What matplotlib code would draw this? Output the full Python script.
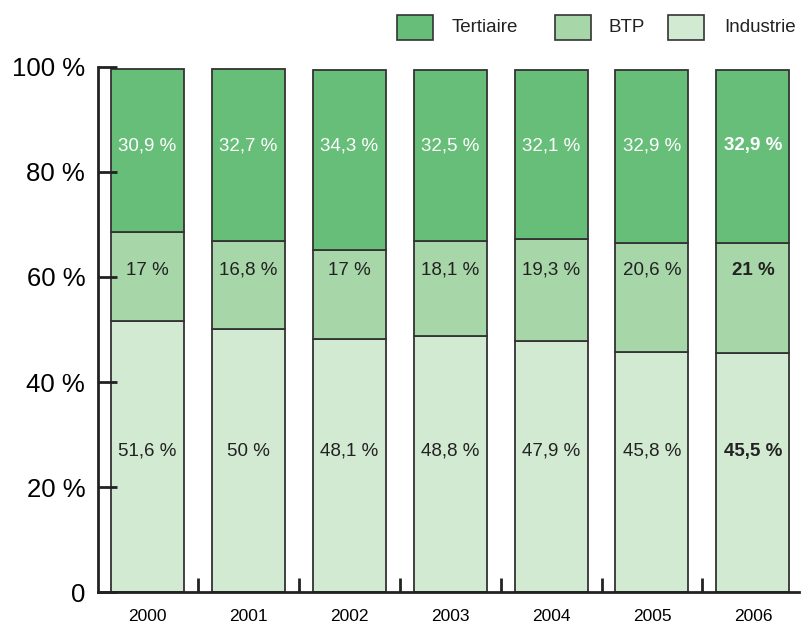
import numpy as np
import matplotlib.pyplot as plt
import matplotlib.patches as mpatches

plt.rcParams['font.family'] = ['Liberation Sans', 'DejaVu Sans']

years = ['2000', '2001', '2002', '2003', '2004', '2005', '2006']
industrie = [51.6, 50.0, 48.1, 48.8, 47.9, 45.8, 45.5]
btp = [17.0, 16.8, 17.0, 18.1, 19.3, 20.6, 21.0]
tertiaire = [30.9, 32.7, 34.3, 32.5, 32.1, 32.9, 32.9]
series_names = ['Tertiaire', 'BTP', 'Industrie']

c_ind = '#d2e9d2'
c_btp = '#a7d6a8'
c_ter = '#67be79'
edge = '#333333'

def fmt(v):
    s = ('%.1f' % v).rstrip('0').rstrip('.')
    return s.replace('.', ',') + ' %'

W, H = 801, 624
fig = plt.figure(figsize=(W / 100, H / 100), dpi=100)
ax = fig.add_axes([0.122, 0.051, 0.876, 0.842])

x = np.arange(len(years))
w = 0.723
ind = np.array(industrie)
bt = np.array(btp)
te = np.array(tertiaire)

ax.bar(x, ind, w, color=c_ind, edgecolor=edge, linewidth=1.3)
ax.bar(x, bt, w, bottom=ind, color=c_btp, edgecolor=edge, linewidth=1.3)
ax.bar(x, te, w, bottom=ind + bt, color=c_ter, edgecolor=edge, linewidth=1.3)

for i in range(len(years)):
    bold = 'bold' if i == len(years) - 1 else 'normal'
    ax.text(x[i], 85, fmt(te[i]), ha='center', va='center', color='white',
            fontsize=13.5, fontweight=bold)
    ax.text(x[i], 61.3, fmt(bt[i]), ha='center', va='center', color='#222222',
            fontsize=13.5, fontweight=bold)
    ax.text(x[i], 26.8, fmt(ind[i]), ha='center', va='center', color='#222222',
            fontsize=13.5, fontweight=bold)

ax.set_xlim(-0.49, len(years) - 1 + 0.46)
ax.set_ylim(0, 100)
ax.set_yticks([0, 20, 40, 60, 80, 100])
ax.set_yticklabels(['0', '20 %', '40 %', '60 %', '80 %', '100 %'], fontsize=18.5)
ax.set_xticks(x)
ax.set_xticklabels(years, fontsize=12.5)
ax.set_xticks(x[:-1] + 0.5, minor=True)
ax.tick_params(axis='x', which='major', length=0, pad=12)
ax.tick_params(axis='x', which='minor', direction='in', length=10, width=2, color='#222222')
ax.tick_params(axis='y', direction='in', length=14, width=2, color='#222222', pad=9)
for s in ['top', 'right']:
    ax.spines[s].set_visible(False)
for s in ['left', 'bottom']:
    ax.spines[s].set_linewidth(2)
    ax.spines[s].set_color('#222222')

# legend drawn by hand to match the uneven spacing of the original
patch_x = [397, 555, 668]
text_x = [452, 608, 724]
for c, name, px, tx in zip([c_ter, c_btp, c_ind], series_names, patch_x, text_x):
    fig.add_artist(mpatches.Rectangle((px / W, 1 - 40 / H), 36 / W, 25 / H,
                                      facecolor=c, edgecolor=edge, linewidth=1.2,
                                      transform=fig.transFigure))
    fig.text(tx / W, 1 - 28 / H, name, ha='left', va='center', fontsize=13.5,
             color='#222222')

fig.savefig('out.png', dpi=100)
